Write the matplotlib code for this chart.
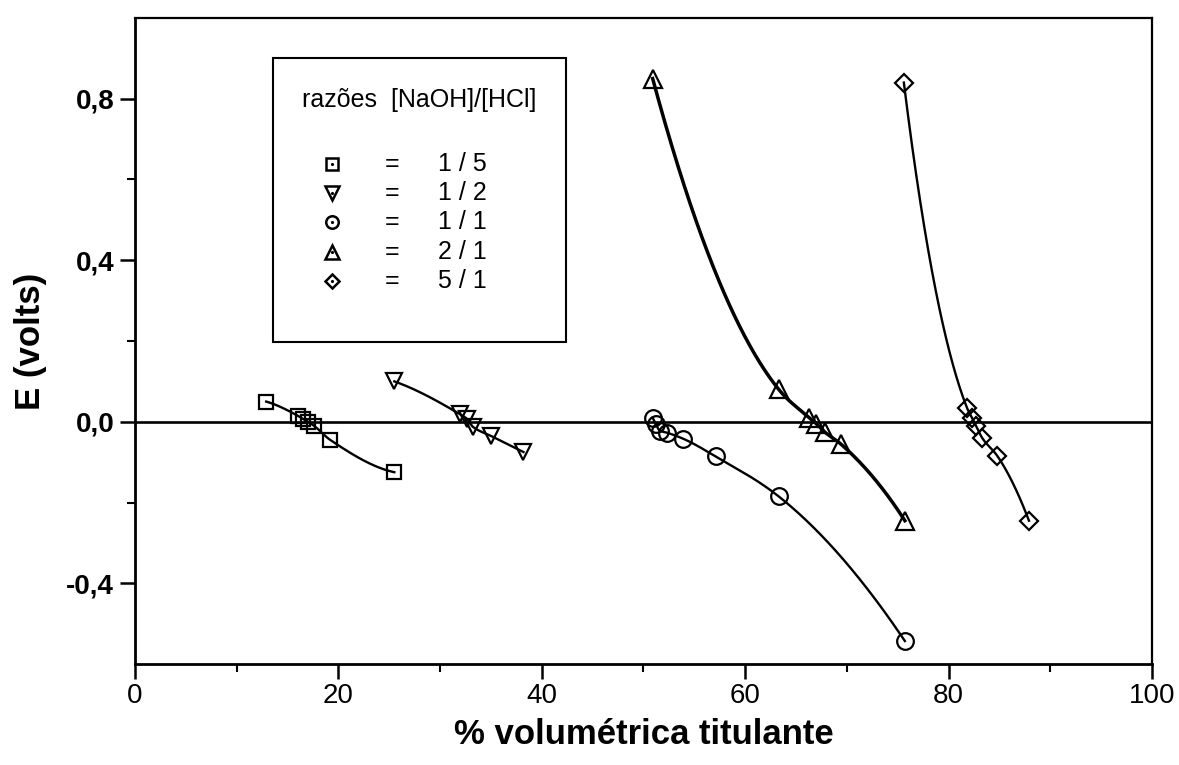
import numpy as np
import matplotlib
matplotlib.use("Agg")
import matplotlib.pyplot as plt
from matplotlib.patches import Rectangle

# ---------------- data ----------------
sq_x = [12.9, 16.0, 16.5, 17.0, 17.6, 19.2, 25.5]          # 1/5
sq_y = [0.050, 0.015, 0.007, 0.000, -0.010, -0.045, -0.125]

tdn_x = [25.5, 32.0, 32.6, 33.2, 35.0, 38.2]                # 1/2
tdn_y = [0.100, 0.018, 0.008, -0.012, -0.035, -0.075]

ci_x = [50.9, 51.2, 51.6, 52.3, 53.9, 57.1, 63.3, 75.7]     # 1/1
ci_y = [0.010, -0.005, -0.022, -0.027, -0.042, -0.086, -0.185, -0.543]

tup_x = [50.9, 63.3, 66.3, 67.0, 67.8, 69.4, 75.7]          # 2/1
tup_y = [0.850, 0.080, 0.010, -0.005, -0.025, -0.055, -0.245]

di_x = [75.6, 81.8, 82.3, 82.7, 83.3, 84.8, 87.9]           # 5/1
di_y = [0.840, 0.035, 0.010, -0.010, -0.040, -0.085, -0.245]

legend_title = "razões  [NaOH]/[HCl]"
legend_labels = ["1 / 5", "1 / 2", "1 / 1", "2 / 1", "5 / 1"]
x_ticks = [0, 20, 40, 60, 80, 100]
x_ticklabels = ["0", "20", "40", "60", "80", "100"]
y_ticks = [-0.4, 0.0, 0.4, 0.8]
y_ticklabels = ["-0,4", "0,0", "0,4", "0,8"]
x_label = "% volumétrica titulante"
y_label = "E (volts)"


def pchip(x, y, n=400):
    x = np.asarray(x, float)
    y = np.asarray(y, float)
    h = np.diff(x)
    d = np.diff(y) / h
    m = np.zeros_like(y)
    for k in range(1, len(x) - 1):
        if d[k - 1] * d[k] <= 0:
            m[k] = 0.0
        else:
            w1 = 2 * h[k] + h[k - 1]
            w2 = h[k] + 2 * h[k - 1]
            m[k] = (w1 + w2) / (w1 / d[k - 1] + w2 / d[k])

    def end(h0, h1, d0, d1):
        mm = ((2 * h0 + h1) * d0 - h0 * d1) / (h0 + h1)
        if np.sign(mm) != np.sign(d0):
            mm = 0.0
        elif np.sign(d0) != np.sign(d1) and abs(mm) > abs(3 * d0):
            mm = 3 * d0
        return mm

    m[0] = end(h[0], h[1], d[0], d[1])
    m[-1] = end(h[-1], h[-2], d[-1], d[-2])
    xs = np.linspace(x[0], x[-1], n)
    idx = np.clip(np.searchsorted(x, xs) - 1, 0, len(h) - 1)
    t = (xs - x[idx]) / h[idx]
    hh = h[idx]
    h00 = 2 * t**3 - 3 * t**2 + 1
    h10 = t**3 - 2 * t**2 + t
    h01 = -2 * t**3 + 3 * t**2
    h11 = t**3 - t**2
    ys = h00 * y[idx] + h10 * hh * m[idx] + h01 * y[idx + 1] + h11 * hh * m[idx + 1]
    return xs, ys


plt.rcParams['font.family'] = ['Liberation Sans', 'DejaVu Sans']

fig = plt.figure(figsize=(11.79, 7.65), dpi=100)
ax = fig.add_axes([0.1145, 0.132, 0.8626, 0.8445])

ax.set_xlim(0, 100)
ax.set_ylim(-0.6, 1.0)

ax.axhline(0.0, color='black', lw=1.9, zorder=1)

series = [
    (sq_x, sq_y, 's', 10.0, 1.7),
    (tdn_x, tdn_y, 'v', 12.0, 1.7),
    (ci_x, ci_y, 'o', 12.0, 1.7),
    (tup_x, tup_y, '^', 13.0, 2.5),
    (di_x, di_y, 'D', 9.5, 1.7),
]
for xs, ys, mk, ms, lw in series:
    cx, cy = pchip(xs, ys)
    ax.plot(cx, cy, color='black', lw=lw, zorder=2)
    ax.plot(xs, ys, linestyle='none', marker=mk, ms=ms, mfc='none',
            mec='black', mew=1.6, zorder=3)

# ticks
ax.set_xticks(x_ticks)
ax.set_xticklabels(x_ticklabels, fontsize=20)
ax.set_xticks(np.arange(10, 100, 20), minor=True)
ax.set_yticks(y_ticks)
ax.set_yticklabels(y_ticklabels, fontsize=20, fontweight='bold')
ax.set_yticks([-0.2, 0.2, 0.6], minor=True)
ax.tick_params(which='major', direction='out', length=11, width=1.8,
               top=False, right=False)
ax.tick_params(axis='x', which='major', pad=3)
ax.tick_params(axis='y', which='major', pad=4)
ax.tick_params(which='minor', direction='out', length=6, width=1.5,
               top=False, right=False)
for s in ['left', 'bottom']:
    ax.spines[s].set_linewidth(2.0)
for s in ['top', 'right']:
    ax.spines[s].set_linewidth(1.6)

ax.set_xlabel(x_label, fontsize=25, fontweight='bold', labelpad=6)
ax.set_ylabel(y_label, fontsize=25, fontweight='bold', labelpad=14)

# legend box (custom, Origin style)
ax.add_patch(Rectangle((0.136, 0.498), 0.288, 0.440, transform=ax.transAxes,
                       fill=False, ec='black', lw=1.5, zorder=4))
ax.text(0.164, 0.873, legend_title, transform=ax.transAxes, fontsize=18,
        ha='left', va='center', zorder=5)
markers = ['s', 'v', 'o', '^', 'D']
msizes = [8, 10, 9, 10, 7.5]
row_y = [0.774, 0.729, 0.684, 0.638, 0.593]
for mk, ms, lab, yy in zip(markers, msizes, legend_labels, row_y):
    ax.plot([0.194], [yy], transform=ax.transAxes, marker=mk, ms=ms,
            mfc='none', mec='black', mew=1.8, linestyle='none', zorder=5,
            clip_on=False)
    ax.plot([0.194], [yy], transform=ax.transAxes, marker='.', ms=2.5,
            color='black', linestyle='none', zorder=5, clip_on=False)
    ax.text(0.253, yy, "=", transform=ax.transAxes, fontsize=18,
            ha='center', va='center', zorder=5)
    ax.text(0.298, yy, lab, transform=ax.transAxes, fontsize=18,
            ha='left', va='center', zorder=5)

fig.savefig("out.png", dpi=100)
